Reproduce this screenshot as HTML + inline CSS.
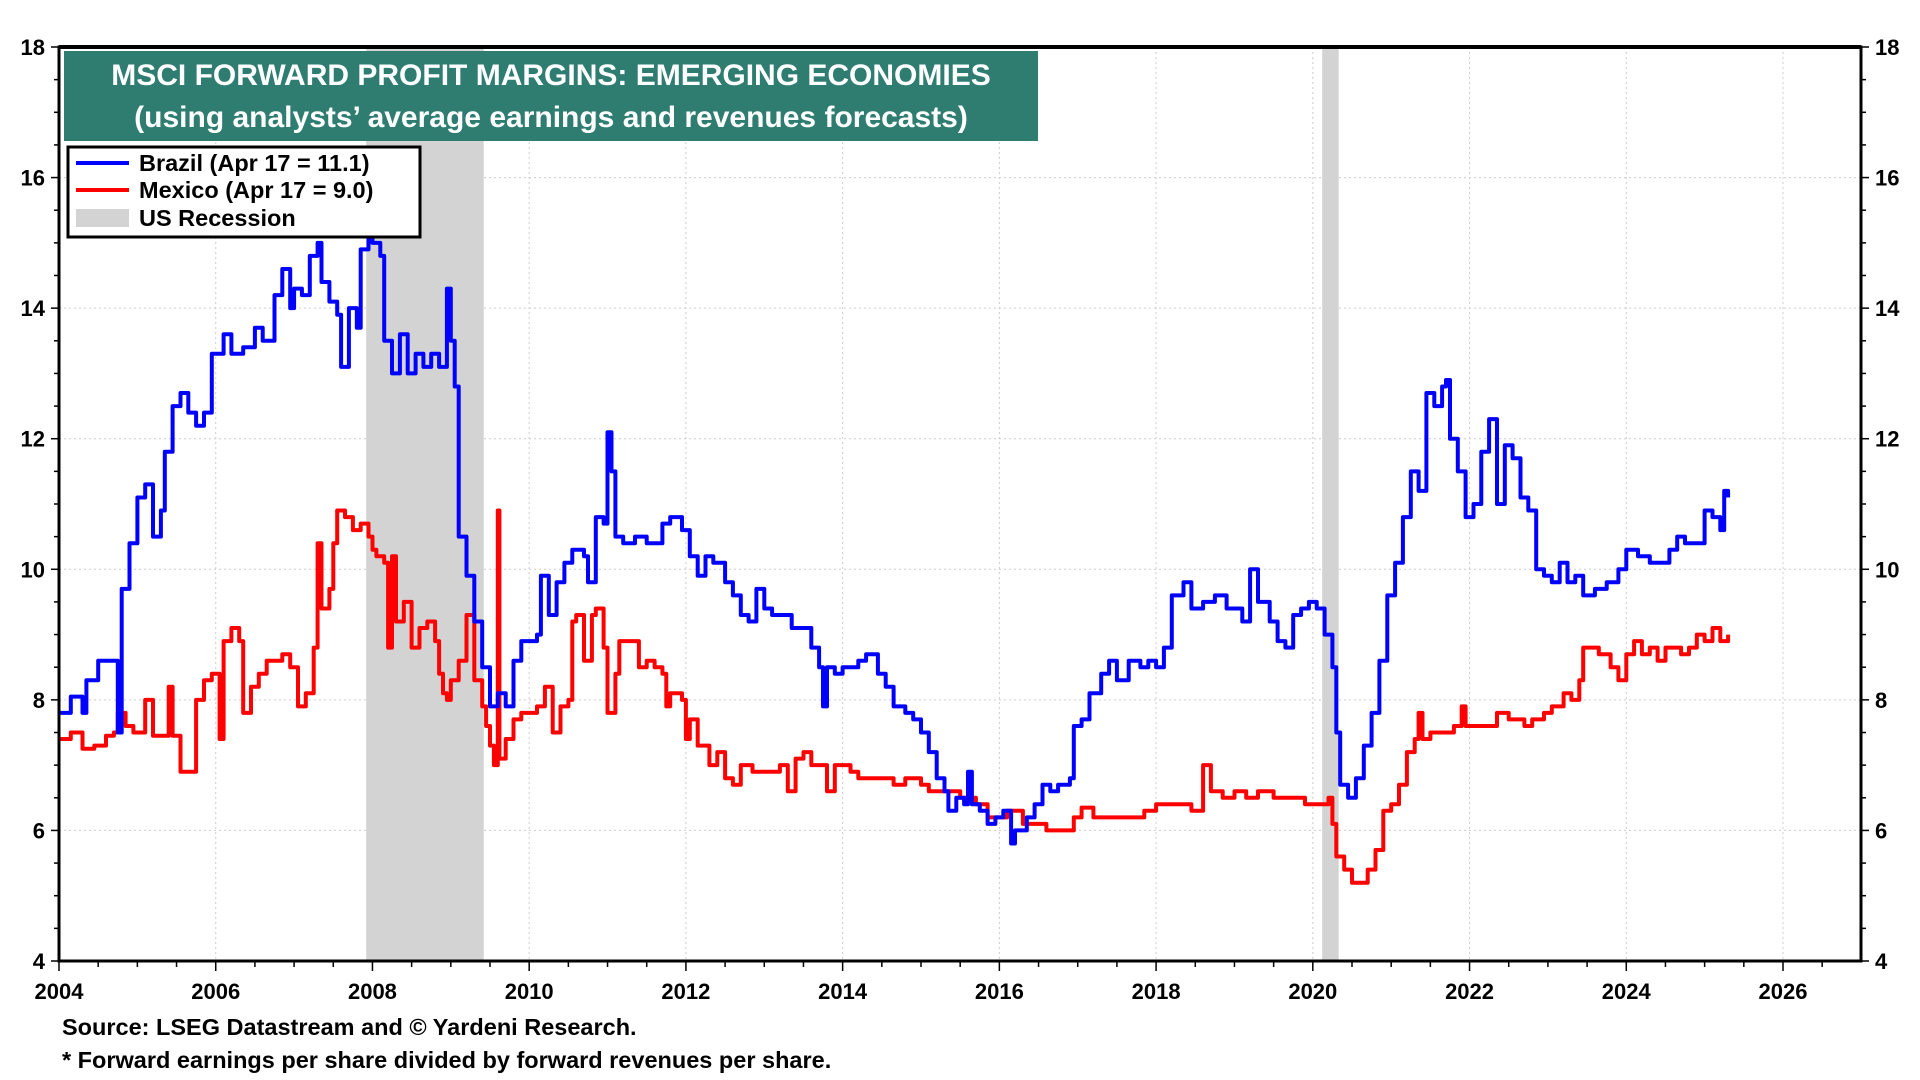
<!DOCTYPE html>
<html><head><meta charset="utf-8"><style>
html,body{margin:0;padding:0;background:#fff;width:1920px;height:1080px;overflow:hidden;font-family:"Liberation Sans",Arial,sans-serif}
svg text{font-family:"Liberation Sans",Arial,sans-serif;font-weight:bold}
</style></head><body>
<svg id="chart" width="1920" height="1080" viewBox="0 0 1920 1080" xmlns="http://www.w3.org/2000/svg">
<g id="grid"></g>
<g id="rec"></g>
<g id="series"></g>
<g id="axes"></g>
<rect x="64" y="51" width="974" height="90" fill="#2e7d70"/>
<text x="551" y="85" fill="#fff" font-size="30" text-anchor="middle">MSCI FORWARD PROFIT MARGINS: EMERGING ECONOMIES</text>
<text x="551" y="127" fill="#fff" font-size="30" text-anchor="middle">(using analysts’ average earnings and revenues forecasts)</text>
<g>
<rect x="68" y="147" width="352" height="90" fill="#fff" stroke="#000" stroke-width="3"/>
<line x1="76" y1="163" x2="129" y2="163" stroke="#0000ff" stroke-width="4"/>
<text x="139" y="171" font-size="23.5">Brazil (Apr 17 = 11.1)</text>
<line x1="76" y1="190" x2="129" y2="190" stroke="#ff0000" stroke-width="4"/>
<text x="139" y="198" font-size="23.5">Mexico (Apr 17 = 9.0)</text>
<rect x="76" y="209" width="53" height="18" fill="#d3d3d3"/>
<text x="139" y="226" font-size="23.5">US Recession</text>
</g>
<text x="62" y="1035" font-size="23.5">Source: LSEG Datastream and © Yardeni Research.</text>
<text x="62" y="1068" font-size="23.5">* Forward earnings per share divided by forward revenues per share.</text>
</svg>
<script>
const xTicks=[2004,2006,2008,2010,2012,2014,2016,2018,2020,2022,2024,2026];
const yTicks=[4,6,8,10,12,14,16,18];
const recessions=[[2007.92,2009.42],[2020.12,2020.33]];
const brazilDates=[2004.0,2004.15,2004.3,2004.35,2004.5,2004.7,2004.75,2004.8,2004.9,2005.0,2005.1,2005.2,2005.3,2005.35,2005.45,2005.55,2005.65,2005.75,2005.85,2005.95,2006.1,2006.2,2006.35,2006.5,2006.6,2006.75,2006.85,2006.95,2007.0,2007.1,2007.2,2007.3,2007.35,2007.45,2007.55,2007.6,2007.7,2007.8,2007.85,2007.95,2008.0,2008.1,2008.15,2008.25,2008.35,2008.45,2008.55,2008.65,2008.75,2008.85,2008.95,2009.0,2009.05,2009.1,2009.2,2009.3,2009.4,2009.5,2009.6,2009.7,2009.8,2009.9,2010.0,2010.1,2010.15,2010.25,2010.35,2010.45,2010.55,2010.7,2010.75,2010.85,2010.95,2011.0,2011.05,2011.1,2011.2,2011.35,2011.5,2011.6,2011.7,2011.8,2011.95,2012.05,2012.15,2012.25,2012.35,2012.5,2012.6,2012.7,2012.8,2012.9,2013.0,2013.1,2013.2,2013.35,2013.45,2013.6,2013.7,2013.75,2013.8,2013.9,2014.0,2014.1,2014.2,2014.3,2014.45,2014.55,2014.65,2014.8,2014.9,2015.0,2015.1,2015.2,2015.3,2015.35,2015.45,2015.55,2015.6,2015.65,2015.75,2015.85,2015.95,2016.05,2016.15,2016.2,2016.35,2016.45,2016.55,2016.65,2016.75,2016.9,2016.95,2017.05,2017.15,2017.3,2017.4,2017.5,2017.65,2017.8,2017.9,2018.0,2018.1,2018.2,2018.35,2018.45,2018.6,2018.75,2018.9,2019.0,2019.1,2019.2,2019.3,2019.45,2019.55,2019.65,2019.75,2019.85,2019.95,2020.05,2020.15,2020.25,2020.3,2020.35,2020.45,2020.55,2020.65,2020.75,2020.85,2020.95,2021.05,2021.15,2021.25,2021.35,2021.45,2021.55,2021.65,2021.7,2021.75,2021.85,2021.95,2022.05,2022.15,2022.25,2022.35,2022.45,2022.55,2022.65,2022.75,2022.85,2022.95,2023.05,2023.15,2023.25,2023.35,2023.45,2023.6,2023.75,2023.9,2024.0,2024.15,2024.3,2024.45,2024.55,2024.65,2024.75,2024.9,2025.0,2025.1,2025.2,2025.25,2025.3];
const brazilValues=[7.8,8.05,7.8,8.3,8.6,8.6,7.5,9.7,10.4,11.1,11.3,10.5,10.9,11.8,12.5,12.7,12.4,12.2,12.4,13.3,13.6,13.3,13.4,13.7,13.5,14.2,14.6,14.0,14.3,14.2,14.8,15.0,14.4,14.1,13.9,13.1,14.0,13.7,14.9,15.2,15.0,14.8,13.5,13.0,13.6,13.0,13.3,13.1,13.3,13.1,14.3,13.5,12.8,10.5,9.9,9.2,8.5,7.9,8.1,7.9,8.6,8.9,8.9,9.0,9.9,9.3,9.8,10.1,10.3,10.2,9.8,10.8,10.7,12.1,11.5,10.5,10.4,10.5,10.4,10.4,10.7,10.8,10.6,10.2,9.9,10.2,10.1,9.8,9.6,9.3,9.2,9.7,9.4,9.3,9.3,9.1,9.1,8.8,8.5,7.9,8.5,8.4,8.5,8.5,8.6,8.7,8.4,8.2,7.9,7.8,7.7,7.5,7.2,6.8,6.6,6.3,6.5,6.4,6.9,6.4,6.3,6.1,6.2,6.3,5.8,6.0,6.2,6.4,6.7,6.6,6.7,6.8,7.6,7.7,8.1,8.4,8.6,8.3,8.6,8.5,8.6,8.5,8.8,9.6,9.8,9.4,9.5,9.6,9.4,9.4,9.2,10.0,9.5,9.2,8.9,8.8,9.3,9.4,9.5,9.4,9.0,8.5,7.5,6.7,6.5,6.8,7.3,7.8,8.6,9.6,10.1,10.8,11.5,11.2,12.7,12.5,12.8,12.9,12.0,11.5,10.8,11.0,11.8,12.3,11.0,11.9,11.7,11.1,10.9,10.0,9.9,9.8,10.1,9.8,9.9,9.6,9.7,9.8,10.0,10.3,10.2,10.1,10.1,10.3,10.5,10.4,10.4,10.9,10.8,10.6,11.2,11.1];
const mexicoDates=[2004.0,2004.15,2004.3,2004.45,2004.6,2004.7,2004.75,2004.85,2004.95,2005.0,2005.1,2005.2,2005.4,2005.45,2005.55,2005.7,2005.75,2005.85,2005.95,2006.05,2006.1,2006.2,2006.3,2006.35,2006.45,2006.55,2006.65,2006.75,2006.85,2006.95,2007.05,2007.15,2007.25,2007.3,2007.35,2007.45,2007.5,2007.55,2007.65,2007.75,2007.85,2007.95,2008.0,2008.05,2008.15,2008.2,2008.25,2008.3,2008.4,2008.5,2008.6,2008.7,2008.8,2008.85,2008.9,2008.95,2009.0,2009.1,2009.2,2009.3,2009.4,2009.45,2009.5,2009.55,2009.6,2009.62,2009.7,2009.8,2009.9,2010.0,2010.1,2010.2,2010.3,2010.4,2010.5,2010.55,2010.6,2010.7,2010.8,2010.85,2010.95,2011.0,2011.1,2011.15,2011.3,2011.4,2011.5,2011.6,2011.7,2011.75,2011.8,2011.95,2012.0,2012.05,2012.15,2012.3,2012.4,2012.5,2012.6,2012.7,2012.85,2013.0,2013.1,2013.2,2013.3,2013.4,2013.5,2013.6,2013.7,2013.8,2013.9,2014.1,2014.2,2014.3,2014.5,2014.65,2014.8,2015.0,2015.1,2015.3,2015.5,2015.7,2015.85,2016.0,2016.1,2016.2,2016.3,2016.45,2016.6,2016.8,2016.95,2017.05,2017.2,2017.4,2017.55,2017.7,2017.85,2018.0,2018.15,2018.3,2018.45,2018.55,2018.6,2018.7,2018.85,2019.0,2019.15,2019.3,2019.5,2019.7,2019.9,2020.1,2020.2,2020.25,2020.3,2020.4,2020.5,2020.6,2020.7,2020.8,2020.9,2021.0,2021.1,2021.2,2021.3,2021.35,2021.4,2021.5,2021.6,2021.7,2021.8,2021.9,2021.95,2022.1,2022.25,2022.35,2022.5,2022.6,2022.7,2022.8,2022.95,2023.05,2023.2,2023.3,2023.4,2023.45,2023.55,2023.65,2023.8,2023.9,2024.0,2024.1,2024.2,2024.3,2024.4,2024.5,2024.6,2024.7,2024.8,2024.9,2025.0,2025.1,2025.2,2025.3];
const mexicoValues=[7.4,7.5,7.25,7.3,7.45,7.5,7.8,7.6,7.5,7.5,8.0,7.45,8.2,7.45,6.9,6.9,8.0,8.3,8.4,7.4,8.9,9.1,8.9,7.8,8.2,8.4,8.6,8.6,8.7,8.5,7.9,8.1,8.8,10.4,9.4,9.7,10.4,10.9,10.8,10.6,10.7,10.5,10.3,10.2,10.1,8.8,10.2,9.2,9.5,8.8,9.1,9.2,8.9,8.4,8.1,8.0,8.3,8.6,9.3,8.3,7.9,7.6,7.3,7.0,10.9,7.1,7.4,7.7,7.8,7.8,7.9,8.2,7.5,7.9,8.0,9.2,9.3,8.6,9.3,9.4,8.8,7.8,8.4,8.9,8.9,8.5,8.6,8.5,8.4,7.9,8.1,8.0,7.4,7.7,7.3,7.0,7.2,6.8,6.7,7.0,6.9,6.9,6.9,7.0,6.6,7.1,7.2,7.0,7.0,6.6,7.0,6.9,6.8,6.8,6.8,6.7,6.8,6.7,6.6,6.6,6.5,6.4,6.2,6.2,6.3,6.3,6.1,6.1,6.0,6.0,6.2,6.35,6.2,6.2,6.2,6.2,6.3,6.4,6.4,6.4,6.3,6.3,7.0,6.6,6.5,6.6,6.5,6.6,6.5,6.5,6.4,6.4,6.5,6.1,5.6,5.4,5.2,5.2,5.4,5.7,6.3,6.4,6.7,7.2,7.4,7.8,7.4,7.5,7.5,7.5,7.6,7.9,7.6,7.6,7.6,7.8,7.7,7.7,7.6,7.7,7.8,7.9,8.1,8.0,8.3,8.8,8.8,8.7,8.5,8.3,8.7,8.9,8.7,8.8,8.6,8.8,8.8,8.7,8.8,9.0,8.9,9.1,8.9,9.0];

const NS='http://www.w3.org/2000/svg';
const L=59,R=1861,T=47,B=961;
const X0=2004,XPER=(1783-59)/22;
function xs(v){return L+(v-X0)*XPER;}
function ys(v){return B-(v-4)*(B-T)/14;}
function mk(tag,attrs,parent){const e=document.createElementNS(NS,tag);for(const k in attrs)e.setAttribute(k,attrs[k]);parent.appendChild(e);return e;}
const grid=document.getElementById('grid'),rec=document.getElementById('rec'),ser=document.getElementById('series'),axes=document.getElementById('axes');
mk('rect',{x:L,y:T,width:R-L,height:B-T,fill:'#fff'},grid);
yTicks.forEach(t=>{if(t>4&&t<18){const g=mk('line',{x1:L,y1:ys(t),x2:R,y2:ys(t),stroke:'#ccc','stroke-width':1,'stroke-dasharray':'2,3'},grid);

}});
xTicks.forEach(t=>{if(t>2004){const g=mk('line',{x1:xs(t),y1:T,x2:xs(t),y2:B,stroke:'#ccc','stroke-width':1,'stroke-dasharray':'2,3'},grid);

}});
recessions.forEach(r=>{const e=mk('rect',{x:xs(r[0]),y:T,width:xs(r[1])-xs(r[0]),height:B-T,fill:'#d3d3d3'},rec);

});
function stepPath(d,v){let p='M'+xs(d[0]).toFixed(1)+','+ys(v[0]).toFixed(1);for(let i=1;i<d.length;i++){p+='H'+xs(d[i]).toFixed(1)+'V'+ys(v[i]).toFixed(1);}return p;}
const pm=mk('path',{d:stepPath(mexicoDates,mexicoValues),fill:'none',stroke:'#ff0000','stroke-width':4,'stroke-linejoin':'round'},ser);


const pb=mk('path',{d:stepPath(brazilDates,brazilValues),fill:'none',stroke:'#0000ff','stroke-width':4,'stroke-linejoin':'round'},ser);


mk('rect',{x:L,y:T,width:R-L,height:B-T,fill:'none',stroke:'#000','stroke-width':3},axes);
mk('line',{x1:L,y1:T,x2:R,y2:T,stroke:'#000','stroke-width':4},axes);
for(let v=4;v<=18;v+=0.5){const major=(v%2===0);const len=major?8:5;
mk('line',{x1:L-len,y1:ys(v),x2:L,y2:ys(v),stroke:'#000','stroke-width':1.5},axes);
mk('line',{x1:R,y1:ys(v),x2:R+len,y2:ys(v),stroke:'#000','stroke-width':1.5},axes);}
yTicks.forEach(t=>{const a=mk('text',{x:L-14,y:ys(t)+8,'font-size':22,'text-anchor':'end'},axes);a.textContent=t;


const b=mk('text',{x:R+14,y:ys(t)+8,'font-size':22,'text-anchor':'start'},axes);b.textContent=t;

});
for(let yr=2004;yr<=2027;yr+=0.5){const major=(yr%2===0);const px=xs(yr);if(px>R)break;
mk('line',{x1:px,y1:B,x2:px,y2:B+(major?10:6),stroke:'#000','stroke-width':1.5},axes);}
xTicks.forEach(t=>{const a=mk('text',{x:xs(t),y:B+38,'font-size':22,'text-anchor':'middle'},axes);a.textContent=t;

});
</script>
</body></html>
